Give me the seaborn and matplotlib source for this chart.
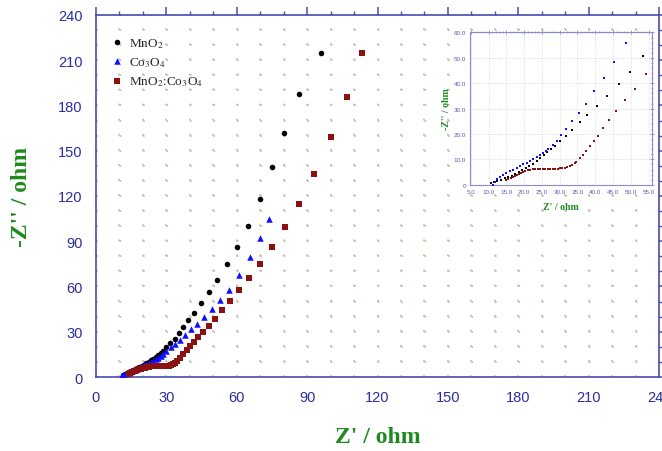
import matplotlib
matplotlib.use('Agg')
import matplotlib.pyplot as plt
import seaborn as sns
from matplotlib.ticker import MultipleLocator, FuncFormatter

# main plot data
mno2_x = [11.5, 12.5, 13.5, 14.5, 15.5, 16.5, 17.5, 18.5, 19.5, 20.5, 21.5, 22.5, 23.5, 24.5,
          25.5, 26.5, 27.5, 28.5, 29.8, 31.6, 33.5, 35.5, 37.3, 39.3, 41.8, 44.8, 48.2, 51.6,
          55.9, 60.1, 65.0, 69.7, 74.9, 80.0, 86.6, 96.0]
mno2_y = [1.0, 1.8, 2.6, 3.4, 4.2, 5.0, 5.8, 6.6, 7.4, 8.2, 9.1, 10.0, 11.0, 12.0,
          13.1, 14.3, 15.7, 17.5, 19.7, 22.5, 25.5, 29.0, 32.9, 37.6, 42.6, 49.0, 56.1, 64.5,
          74.7, 86.4, 100.3, 118.2, 139.5, 162.0, 187.7, 215.0]

co3o4_x = [10.8, 11.2, 11.7, 12.3, 13.0, 13.8, 14.6, 15.5, 16.5, 17.5, 18.5, 19.5, 20.5, 21.5,
           22.5, 23.5, 24.5, 25.5, 26.5, 27.5, 28.5, 29.8, 31.8, 33.5, 35.6, 37.9, 40.3, 43.0,
           46.1, 49.5, 53.0, 56.7, 61.1, 65.5, 69.8, 73.7]
co3o4_y = [0.2, 0.8, 1.4, 2.0, 2.6, 3.1, 3.6, 4.2, 4.9, 5.6, 6.3, 7.0, 7.7, 8.4,
           9.2, 10.0, 10.9, 11.8, 12.8, 13.9, 15.1, 17.0, 19.9, 22.1, 24.8, 27.9, 31.6, 35.2,
           40.1, 45.1, 50.9, 58.0, 67.6, 79.4, 92.0, 104.8]

mix_x = [14.0, 14.6, 15.3, 16.0, 16.8, 17.6, 18.4, 19.2, 20.0, 20.8, 21.6, 22.4, 23.2, 24.0,
         24.8, 25.6, 26.4, 27.2, 28.0, 28.8, 29.6, 30.4, 31.2, 32.0, 32.8, 33.5, 34.6, 35.7,
         36.9, 38.6, 40.0, 41.7, 43.5, 45.5, 48.1, 50.6, 53.7, 57.1, 61.1, 65.4, 70.1, 75.2,
         80.6, 86.5, 92.9, 100.1, 106.9, 113.5]
mix_y = [2.0, 2.6, 3.2, 3.7, 4.2, 4.7, 5.2, 5.6, 6.0, 6.3, 6.6, 6.8, 7.0, 7.1,
         7.2, 7.2, 7.2, 7.2, 7.2, 7.2, 7.3, 7.4, 7.6, 7.9, 8.4, 9.1, 10.8, 12.8,
         15.2, 18.1, 20.4, 23.0, 26.3, 30.0, 34.0, 38.7, 44.2, 50.4, 57.5, 65.5, 75.2, 86.0,
         99.2, 114.4, 134.3, 158.9, 185.7, 214.8]

# inset data
in_mno2_x = [10.8, 11.5, 12.5, 13.5, 14.5, 15.5, 16.5, 17.5, 18.5, 19.5, 20.5, 21.5, 22.5, 23.5,
             24.5, 25.5, 26.5, 27.6, 28.7, 30.0, 31.7, 33.6, 35.6, 37.8, 40.4, 43.4, 46.6, 49.9, 53.5]
in_mno2_y = [0.7, 1.2, 1.6, 2.0, 2.5, 3.0, 3.6, 4.3, 5.0, 5.8, 6.6, 7.4, 8.3, 9.3,
             10.4, 11.6, 12.8, 14.1, 15.4, 17.1, 19.3, 21.7, 24.6, 27.4, 31.1, 35.0, 39.6, 44.6, 50.7]

in_co3o4_x = [11.3, 11.7, 12.3, 13.1, 14.0, 15.0, 16.0, 16.9, 17.9, 18.8, 19.8, 20.7, 21.6, 22.6,
              23.5, 24.4, 25.4, 26.1, 26.8, 28.0, 29.3, 30.5, 31.9, 33.6, 35.4, 37.5, 39.8, 42.4,
              45.2, 48.7]
in_co3o4_y = [0.0, 1.2, 2.2, 3.2, 4.0, 4.6, 5.3, 5.9, 6.6, 7.3, 8.0, 8.7, 9.4, 10.1,
              10.9, 11.7, 12.5, 13.3, 14.1, 15.6, 17.3, 19.6, 21.9, 25.0, 28.2, 32.0, 36.8, 42.0,
              48.4, 55.7]

in_mix_x = [15.0, 15.6, 16.2, 16.8, 17.4, 18.0, 18.6, 19.2, 19.8, 20.4, 21.0, 21.7, 22.4, 23.1,
            23.8, 24.5, 25.2, 25.9, 26.6, 27.3, 28.0, 28.7, 29.4, 30.1, 30.8, 31.5, 32.2, 32.9,
            33.6, 34.2, 34.7, 35.6, 36.5, 37.5, 38.5, 39.6, 40.9, 42.2, 43.8, 45.9, 48.3, 51.1, 54.2]
in_mix_y = [2.0, 2.4, 2.8, 3.2, 3.6, 4.0, 4.4, 4.8, 5.1, 5.4, 5.7, 5.9, 6.1, 6.2,
            6.3, 6.3, 6.3, 6.3, 6.3, 6.3, 6.3, 6.3, 6.4, 6.5, 6.6, 6.8, 7.1, 7.4,
            7.8, 8.4, 9.1, 10.4, 11.8, 13.4, 15.2, 17.1, 19.4, 22.3, 25.5, 29.0, 33.3, 37.9, 43.5]

labels = [r'MnO$_2$', r'Co$_3$O$_4$', r'MnO$_2$:Co$_3$O$_4$']
colors = ['#000000', '#1010ff', '#8b1010']
markers = ['o', '^', 's']

sns.set_style('white')
plt.rcParams['mathtext.fontset'] = 'stix'
plt.rcParams['font.family'] = ['Liberation Sans Narrow', 'Liberation Sans', 'DejaVu Sans']

axis_col = '#4a4aae'
tick_col = '#2c2ca0'
green = '#1f8a1f'

fig = plt.figure(figsize=(6.62, 4.52), dpi=100)
pos = [0.145, 0.1637, 0.8505, 0.801]
ax = fig.add_axes(pos)

series = [(mno2_x, mno2_y), (co3o4_x, co3o4_y), (mix_x, mix_y)]
sizes = [16, 22, 22]
for (xs, ys), lab, c, m, s in zip(series, labels, colors, markers, sizes):
    sns.scatterplot(x=xs, y=ys, ax=ax, color=c, marker=m, s=s, linewidth=0, label=lab, zorder=3)

ax.set_xlim(0, 240)
ax.set_ylim(0, 240)
ax.xaxis.set_major_locator(MultipleLocator(30))
ax.xaxis.set_minor_locator(MultipleLocator(10))
ax.yaxis.set_major_locator(MultipleLocator(30))
ax.yaxis.set_minor_locator(MultipleLocator(10))

# dotted lattice grid, one dot every 10 units
w_in = pos[2] * 6.62
h_in = pos[3] * 4.52
per_x = w_in * 72 / 24
per_y = h_in * 72 / 24
ax.grid(False)
ax.xaxis.grid(True, which='both', color='#c2c2aa', linewidth=1.3, linestyle=(0, (1, per_y / 1.3 - 1)))
ax.yaxis.grid(True, which='both', color='#c2c2aa', linewidth=1.3, linestyle=(0, (1, per_x / 1.3 - 1)))
ax.set_axisbelow(True)

for sp in ax.spines.values():
    sp.set_color(axis_col)
    sp.set_linewidth(1.2)
ax.tick_params(which='both', direction='out', colors=axis_col, top=True, right=True,
               labelcolor=tick_col, labelsize=10.5)
ax.tick_params(which='major', length=6, width=1.1)
ax.tick_params(which='minor', length=3, width=1.0)

ax.set_xlabel("Z' / ohm", fontsize=17, fontweight='bold', color=green,
              family='Liberation Serif', labelpad=16)
ax.set_ylabel("-Z'' / ohm", fontsize=17, fontweight='bold', color=green,
              family='Liberation Serif', labelpad=19)

ax.legend(loc='upper left', bbox_to_anchor=(-0.003, 0.975), frameon=False,
          prop={'family': 'Liberation Serif', 'size': 9.5},
          handletextpad=0.1, handlelength=1.6, labelspacing=0.4, markerscale=1.0)

# inset
axi = fig.add_axes([0.710, 0.589, 0.2745, 0.337])
in_series = [(in_mno2_x, in_mno2_y), (in_co3o4_x, in_co3o4_y), (in_mix_x, in_mix_y)]
for (xs, ys), c in zip(in_series, colors):
    sns.scatterplot(x=xs, y=ys, ax=axi, color=c, marker='s', s=4, linewidth=0, zorder=3)
axi.set_xlim(4.8, 55.9)
axi.set_ylim(0, 60)
axi.xaxis.set_major_locator(MultipleLocator(5))
axi.xaxis.set_minor_locator(MultipleLocator(1))
axi.yaxis.set_major_locator(MultipleLocator(10))
axi.yaxis.set_minor_locator(MultipleLocator(2))
axi.xaxis.set_major_formatter(FuncFormatter(lambda v, p: '%.1f' % v))
axi.yaxis.set_major_formatter(FuncFormatter(lambda v, p: '0' if v == 0 else '%.1f' % v))
axi.grid(True, which='major', color='#d0d0d8', linewidth=0.6, linestyle=':')
axi.set_axisbelow(True)
for sp in axi.spines.values():
    sp.set_color('#8a8ad0')
    sp.set_linewidth(0.8)
axi.tick_params(which='both', direction='inout', colors='#8a8ad0', top=True, right=True,
                labelcolor='#5a5ab8', labelsize=4.5, pad=1.5)
axi.tick_params(which='major', length=3, width=0.6)
axi.tick_params(which='minor', length=1.5, width=0.5)
axi.set_xlabel("Z' / ohm", fontsize=7, fontweight='bold', color=green,
               family='Liberation Serif', labelpad=6)
axi.set_ylabel("-Z'' / ohm", fontsize=7, fontweight='bold', color=green,
               family='Liberation Serif', labelpad=2)

fig.savefig('out.png', dpi=100)
